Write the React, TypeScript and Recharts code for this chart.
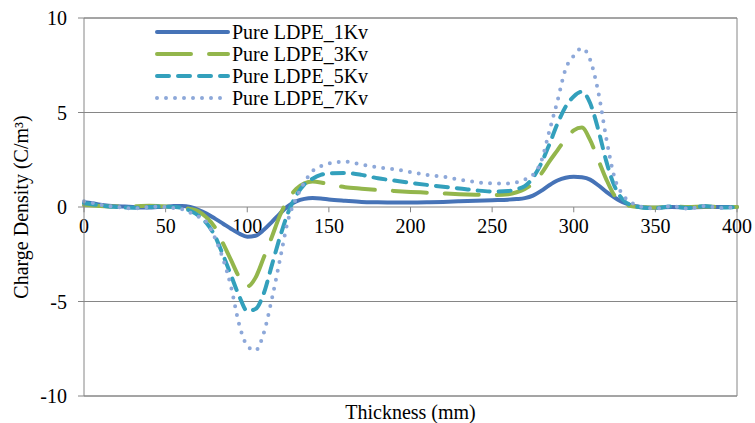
import React from 'react';
import { LineChart, Line, XAxis, YAxis, CartesianGrid, ReferenceLine, Legend } from 'recharts';

const FONT = '"Liberation Serif", "Times New Roman", serif';
const GRID = '#868686';
const TEXT_STYLE = { fontFamily: FONT, fontSize: 20, fill: '#000' };

const thickness = [0,5,10,15,20,25,30,35,40,45,50,55,60,65,70,75,80,85,90,95,100,105,110,115,120,125,130,135,140,145,150,
  160,170,180,190,200,210,220,230,240,250,260,
  265,270,275,280,285,290,295,300,305,310,315,320,325,330,335,340,345,350,
  360,370,380,390,400];

const kv1 = [0.25,0.2,0.12,0.07,0.04,0.02,0,-0.02,-0.02,0,0.02,0.05,0.05,0,-0.15,-0.35,-0.6,-0.87,-1.15,-1.4,-1.57,-1.52,-1.22,-0.8,-0.35,0.05,0.3,0.43,0.47,0.45,0.4,
  0.33,0.27,0.25,0.24,0.24,0.25,0.27,0.3,0.33,0.36,0.39,
  0.42,0.47,0.6,0.85,1.15,1.4,1.55,1.6,1.57,1.45,1.15,0.8,0.5,0.25,0.1,0.02,-0.03,-0.04,
  0,-0.02,0,0,0];

const kv3 = [0.1,0.08,0.05,0.03,0.02,0.02,0.03,0.05,0.06,0.05,0.03,0,-0.03,-0.1,-0.22,-0.55,-1.05,-1.9,-2.8,-3.7,-4.2,-3.75,-2.7,-1.6,-0.45,0.4,0.95,1.25,1.35,1.3,1.2,
  1.05,0.97,0.9,0.85,0.8,0.76,0.72,0.68,0.65,0.63,0.68,
  0.78,0.95,1.25,1.75,2.4,3.0,3.6,4.05,4.2,3.55,2.5,1.45,0.6,0.2,0.05,0,-0.02,-0.03,
  0.02,0,0.02,0,0];

const kv5 = [0.2,0.15,0.08,0.03,0,-0.03,-0.04,-0.03,0,0.02,0.02,0,-0.05,-0.2,-0.45,-0.85,-1.5,-2.5,-3.6,-4.7,-5.5,-5.4,-4.6,-3.1,-1.6,-0.3,0.6,1.2,1.5,1.7,1.78,
  1.8,1.7,1.52,1.4,1.28,1.17,1.07,0.98,0.88,0.82,0.85,
  0.95,1.1,1.55,2.3,3.3,4.4,5.3,5.85,6.1,5.5,4.1,2.4,1.1,0.4,0.1,0,-0.05,-0.06,
  0.03,-0.05,0.05,-0.02,0];

const kv7 = [0.3,0.22,0.12,0.05,0,-0.05,-0.07,-0.05,0,0.02,0,-0.05,-0.12,-0.3,-0.5,-0.8,-1.6,-2.7,-4.2,-6.2,-7.35,-7.6,-6.7,-4.9,-2.8,-0.7,0.45,1.3,1.9,2.15,2.3,
  2.4,2.25,2.1,2.0,1.85,1.7,1.6,1.45,1.32,1.25,1.25,
  1.3,1.45,1.7,2.4,4.0,5.6,7.3,8.0,8.4,7.8,6.1,3.6,1.55,0.65,0.25,0.05,-0.05,-0.08,
  0.05,-0.08,0.05,-0.05,0];

const seriesNames = ['Pure LDPE_1Kv', 'Pure LDPE_3Kv', 'Pure LDPE_5Kv', 'Pure LDPE_7Kv'];
const xTicks = [0, 50, 100, 150, 200, 250, 300, 350, 400];
const yTicks = [-10, -5, 0, 5, 10];

const data = thickness.map((x, i) => ({ x, kv1: kv1[i], kv3: kv3[i], kv5: kv5[i], kv7: kv7[i] }));

const SERIES = [
  { key: 'kv1', name: seriesNames[0], color: '#4673B7', dash: undefined as string | undefined },
  { key: 'kv3', name: seriesNames[1], color: '#93B64C', dash: '34 18' },
  { key: 'kv5', name: seriesNames[2], color: '#33A0BC', dash: '12 9' },
  { key: 'kv7', name: seriesNames[3], color: '#8DA8D9', dash: '0 9' },
];

const LegendContent = () => (
  <div style={{ fontFamily: FONT, fontSize: 20, color: '#000' }}>
    {SERIES.map((s) => (
      <div key={s.key} style={{ display: 'flex', alignItems: 'center', height: 22, whiteSpace: 'nowrap' }}>
        <svg width={77} height={22} style={{ display: 'block' }}>
          <line x1={2} y1={11} x2={73} y2={11} stroke={s.color} strokeWidth={4}
            strokeDasharray={s.dash} strokeLinecap="round" />
        </svg>
        <span style={{ lineHeight: '22px' }}>{s.name}</span>
      </div>
    ))}
  </div>
);

const xTickLabel = (value: number) => (props: any) => {
  const vb = props.viewBox || {};
  return (
    <text x={vb.x + (vb.width || 0) / 2} y={vb.y + (vb.height || 0) + 21} textAnchor="middle"
      style={TEXT_STYLE}>{value}</text>
  );
};

const yTitle = (props: any) => {
  const vb = props.viewBox || {};
  const cx = vb.x + 28;
  const cy = vb.y + vb.height / 2;
  return (
    <text x={cx} y={cy} textAnchor="middle" transform={`rotate(-90, ${cx}, ${cy})`}
      style={TEXT_STYLE}>Charge Density (C/m³)</text>
  );
};

const xTitle = (props: any) => {
  const vb = props.viewBox || {};
  return (
    <text x={vb.x + vb.width / 2} y={vb.y + 23} textAnchor="middle"
      style={TEXT_STYLE}>Thickness (mm)</text>
  );
};

export default function App() {
  return (
    <div>
      <style>{'body{margin:0}'}</style>
      <LineChart width={755} height={423} data={data} margin={{ top: 18, right: 18, bottom: 0, left: 0 }}>
        <CartesianGrid vertical={false} stroke={GRID} />
        <XAxis dataKey="x" type="number" domain={[0, 400]} ticks={xTicks} height={27}
          tick={false} tickLine={false} axisLine={false} label={xTitle} />
        <YAxis type="number" domain={[-10, 10]} ticks={yTicks} width={84} interval={0}
          axisLine={{ stroke: GRID }} tickLine={{ stroke: GRID }} tickSize={6} tickMargin={11}
          tick={{ fill: '#000', fontSize: 20, style: { fontFamily: FONT } }} label={yTitle} />
        <ReferenceLine y={10} stroke={GRID} />
        <ReferenceLine y={-10} stroke={GRID} />
        <ReferenceLine x={400} stroke={GRID} />
        {xTicks.map((t) => (
          <ReferenceLine key={t} segment={[{ x: t, y: 0 }, { x: t, y: -0.28 }]} stroke={GRID}
            label={xTickLabel(t)} />
        ))}
        <Legend layout="vertical" align="center" verticalAlign="middle"
          wrapperStyle={{ left: 155, top: 21, width: 'auto' }} content={<LegendContent />} />
        {SERIES.map((s) => (
          <Line key={s.key} dataKey={s.key} name={s.name} type="monotone" stroke={s.color}
            strokeWidth={4} strokeDasharray={s.dash} strokeLinecap="round" dot={false}
            activeDot={false} isAnimationActive={false} />
        ))}
      </LineChart>
    </div>
  );
}
